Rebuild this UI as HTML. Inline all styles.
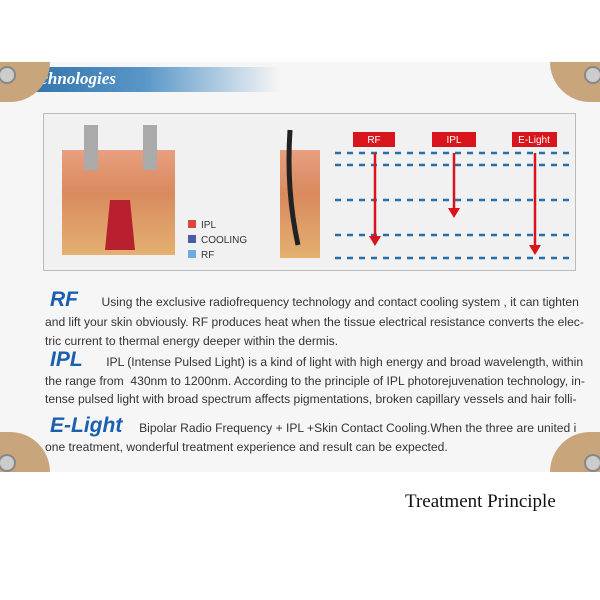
<!DOCTYPE html>
<html><head><style>
body{margin:0;width:600px;height:600px;background:#fff;position:relative;overflow:hidden;font-family:"Liberation Sans",sans-serif}
.abs{position:absolute}
.photo{left:0;top:62px;width:600px;height:410px;background:#f6f6f6}
.bar{left:10px;top:67px;width:270px;height:25px;background:linear-gradient(90deg,#2a6ea8,#5a97c8 50%,rgba(255,255,255,0))}
.bar span{position:absolute;left:14px;top:2px;font:italic bold 17px "Liberation Serif",serif;color:#fff}
.panel{left:43px;top:113px;width:531px;height:156px;border:1px solid #bbb;background:#f1f1f1}
.t{position:absolute;left:50px;font-size:12.1px;color:#333;white-space:nowrap}
.h{font-weight:bold;font-style:italic;color:#1a5fb0;font-size:21px}
.corner{position:absolute;width:50px;height:40px;background:#c9a57c}
.screw{position:absolute;width:14px;height:14px;border-radius:50%;background:#ccc;border:2px solid #888}
</style></head><body>
<div class="abs photo"></div>
<div class="abs bar"><span>Technologies</span></div>
<div class="corner" style="left:0;top:62px;border-radius:0 0 40px 0"></div>
<div class="corner" style="left:550px;top:62px;border-radius:0 0 0 40px"></div>
<div class="corner" style="left:0;top:432px;border-radius:0 40px 0 0"></div>
<div class="corner" style="left:550px;top:432px;border-radius:40px 0 0 0"></div>
<div class="screw" style="left:-2px;top:66px"></div>
<div class="screw" style="left:584px;top:66px"></div>
<div class="screw" style="left:-2px;top:454px"></div>
<div class="screw" style="left:584px;top:454px"></div>
<div class="abs panel"></div>
<svg class="abs" style="left:0;top:0" width="600" height="600">
<defs><linearGradient id="sk" x1="0" y1="0" x2="0" y2="1"><stop offset="0" stop-color="#e8a080"/><stop offset=".4" stop-color="#d98a5e"/><stop offset="1" stop-color="#e4b070"/></linearGradient></defs>
<rect x="62" y="150" width="113" height="105" fill="url(#sk)"/>
<rect x="84" y="125" width="14" height="45" fill="#aaa"/><rect x="143" y="125" width="14" height="45" fill="#aaa"/>
<path d="M110 200 L130 200 L135 250 L105 250Z" fill="#b82030"/>
<rect x="280" y="150" width="40" height="108" fill="url(#sk)"/>
<path d="M290 130 Q286 190 298 245" stroke="#222" stroke-width="5" fill="none"/>
<rect x="188" y="220" width="8" height="8" fill="#d9483a"/><rect x="188" y="235" width="8" height="8" fill="#4b5ba8"/><rect x="188" y="250" width="8" height="8" fill="#6aaedc"/>
<text x="201" y="228" font-size="10" fill="#333">IPL</text><text x="201" y="243" font-size="10" fill="#333">COOLING</text><text x="201" y="258" font-size="10" fill="#333">RF</text>
<g stroke="#2a6ea8" stroke-width="2.5" stroke-dasharray="6 6">
<line x1="335" y1="153" x2="572" y2="153"/><line x1="335" y1="165" x2="572" y2="165"/>
<line x1="335" y1="200" x2="572" y2="200"/><line x1="335" y1="235" x2="572" y2="235"/><line x1="335" y1="258" x2="572" y2="258"/></g>
<g fill="#d8141c"><rect x="353" y="132" width="42" height="15"/><rect x="432" y="132" width="44" height="15"/><rect x="512" y="132" width="45" height="15"/></g>
<g fill="#fff" font-size="10" text-anchor="middle"><text x="374" y="143">RF</text><text x="454" y="143">IPL</text><text x="534" y="143">E-Light</text></g>
<g stroke="#d8141c" stroke-width="2.5"><line x1="375" y1="153" x2="375" y2="238"/><line x1="454" y1="153" x2="454" y2="210"/><line x1="535" y1="153" x2="535" y2="247"/></g>
<g fill="#d8141c"><path d="M369 236 L381 236 L375 246Z"/><path d="M448 208 L460 208 L454 218Z"/><path d="M529 245 L541 245 L535 255Z"/></g>
</svg>
<div class="t" style="top:288px"><span class="h">RF</span>&nbsp;&nbsp;&nbsp;&nbsp;&nbsp;&nbsp; Using the exclusive radiofrequency technology and contact cooling system , it can tighten</div>
<div class="t" style="top:315px;left:45px">and lift your skin obviously. RF produces heat when the tissue electrical resistance converts the elec-</div>
<div class="t" style="top:334px;left:45px">tric current to thermal energy deeper within the dermis.</div>
<div class="t" style="top:348px"><span class="h">IPL</span>&nbsp;&nbsp;&nbsp;&nbsp;&nbsp;&nbsp; IPL (Intense Pulsed Light) is a kind of light with high energy and broad wavelength, within</div>
<div class="t" style="top:374px;left:45px">the range from &nbsp;430nm to 1200nm. According to the principle of IPL photorejuvenation technology, in-</div>
<div class="t" style="top:392px;left:45px">tense pulsed light with broad spectrum affects pigmentations, broken capillary vessels and hair folli-</div>
<div class="t" style="top:414px"><span class="h">E-Light</span>&nbsp;&nbsp;&nbsp;&nbsp; Bipolar Radio Frequency + IPL +Skin Contact Cooling.When the three are united i</div>
<div class="t" style="top:440px;left:45px">one treatment, wonderful treatment experience and result can be expected.</div>
<div class="abs" style="left:405px;top:491px;font:19px 'Liberation Serif',serif;color:#111">Treatment Principle</div>
</body></html>
